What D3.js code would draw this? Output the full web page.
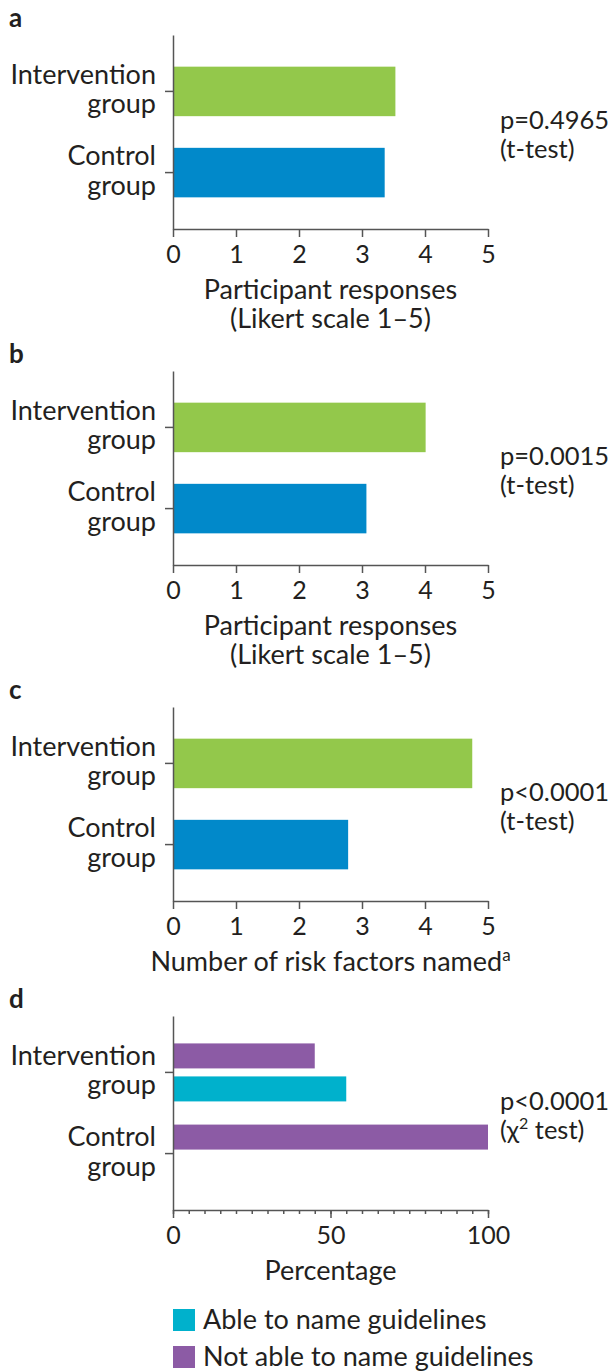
<!DOCTYPE html>
<html>
<head>
<meta charset="utf-8">
<script src="https://cdnjs.cloudflare.com/ajax/libs/d3/7.8.5/d3.min.js"></script>
<style>
  body { margin: 0; background: #fff; }
  svg text { font-family: Lato, "Open Sans", sans-serif; fill: #231f20; }
  .axis path, .axis line { stroke: #555; stroke-width: 1.5; }
  .axis text { font-size: 25px; fill: #231f20; }
</style>
</head>
<body>
<div id="chart"></div>
<script>

// values
var categories = ["Intervention group", "Control group"];
var categoryLines = [["Intervention", "group"], ["Control", "group"]];
var likertA = [3.53, 3.36];
var likertB = [4.01, 3.07];
var riskFactors = [4.75, 2.78];
var ableToName = [55, 0];
var notAbleToName = [45, 100];

var likertTicks = [0, 1, 2, 3, 4, 5];
var pctTicks = [0, 50, 100];
var panelLetters = ["a", "b", "c", "d"];
var pValues = ["p=0.4965", "p=0.0015", "p<0.0001", "p<0.0001"];
var testNames = ["(t-test)", "(t-test)", "(t-test)", "chi2"];
var legendLabels = ["Able to name guidelines", "Not able to name guidelines"];

var colors = {interv: "#93c84b", control: "#0189ca", able: "#00b1cc", notAble: "#8c5ba5"};

var width = 612, height = 1371;
var left = 173, right = 488;
var axisTop = 35, axisBottom = 229;
var offsets = [0, 336, 672, 981];

var svg = d3.select("#chart").append("svg")
    .attr("width", width)
    .attr("height", height);

var y = d3.scaleBand()
    .domain(categories)
    .range([axisTop, axisBottom])
    .paddingInner(0.39)
    .paddingOuter(0.39);

function drawPanel(i, opts) {
  var g = svg.append("g").attr("transform", "translate(0," + offsets[i] + ")");

  g.append("text")
    .attr("x", 9).attr("y", 27)
    .style("font-size", "26px").style("font-weight", "bold")
    .text(panelLetters[i]);

  var x = d3.scaleLinear().domain(opts.domain).range([left, right]);

  if (opts.values) {
    g.selectAll(".bar")
      .data(opts.values)
      .enter().append("rect")
      .attr("class", "bar")
      .attr("x", x(0))
      .attr("y", function(d, j) { return y(categories[j]); })
      .attr("width", function(d) { return x(d) - x(0); })
      .attr("height", y.bandwidth())
      .attr("fill", function(d, j) { return j == 0 ? colors.interv : colors.control; });
  } else {
    // grouped bars for panel d
    var inner = d3.scaleBand().domain(["notAble", "able"]).range([-29, 29]).paddingInner(0.2424);
    categories.forEach(function(c, j) {
      var mid = y(c) + y.bandwidth() / 2;
      [["notAble", notAbleToName[j]], ["able", ableToName[j]]].forEach(function(s) {
        g.append("rect")
          .attr("x", x(0))
          .attr("y", mid + inner(s[0]))
          .attr("width", x(s[1]) - x(0))
          .attr("height", inner.bandwidth())
          .attr("fill", colors[s[0]]);
      });
    });
  }

  // category axis
  g.append("g")
    .attr("class", "axis")
    .attr("transform", "translate(" + left + ",0)")
    .call(d3.axisLeft(y).tickSize(8).tickSizeOuter(0).tickFormat(""));

  categories.forEach(function(c, j) {
    var mid = y(c) + y.bandwidth() / 2;
    var t = g.append("text")
      .attr("text-anchor", "end")
      .style("font-size", "27px");
    t.append("tspan").attr("x", 156).attr("y", mid - 7.5).text(categoryLines[j][0]);
    t.append("tspan").attr("x", 156).attr("y", mid + 22).text(categoryLines[j][1]);
  });

  // value axis
  var xa = g.append("g")
    .attr("class", "axis")
    .attr("transform", "translate(0," + axisBottom + ")")
    .call(d3.axisBottom(x).tickValues(opts.ticks).tickFormat(d3.format("d"))
      .tickSize(8).tickSizeOuter(0));
  xa.selectAll("text").attr("dy", null).attr("y", 34);

  if (opts.minor) {
    g.append("g")
      .attr("class", "axis")
      .attr("transform", "translate(0," + axisBottom + ")")
      .call(d3.axisBottom(x).ticks(20).tickSize(4).tickSizeOuter(0).tickFormat(""))
      .select(".domain").remove();
  }

  // axis title
  var title = g.append("text")
    .attr("text-anchor", "middle")
    .style("font-size", "27px");
  opts.title.forEach(function(line, k) {
    title.append("tspan").attr("x", (left + right) / 2).attr("y", axisBottom + 70 + k * 29).text(line);
  });
  if (opts.titleSup) {
    title.append("tspan").attr("dy", -10).style("font-size", "17px").text(opts.titleSup);
  }

  // p value
  var p = g.append("text").style("font-size", "25.5px");
  p.append("tspan").attr("x", 500).attr("y", 129).text(pValues[i]);
  if (testNames[i] == "chi2") {
    p.append("tspan").attr("x", 500).attr("y", 158).text("(\u03c7");
    p.append("tspan").attr("dy", -10).style("font-size", "16px").text("2");
    p.append("tspan").attr("dy", 10).text(" test)");
  } else {
    p.append("tspan").attr("x", 500).attr("y", 158).text(testNames[i]);
  }
}

drawPanel(0, {values: likertA, domain: [0, 5], ticks: likertTicks,
  title: ["Participant responses", "(Likert scale 1\u20135)"]});
drawPanel(1, {values: likertB, domain: [0, 5], ticks: likertTicks,
  title: ["Participant responses", "(Likert scale 1\u20135)"]});
drawPanel(2, {values: riskFactors, domain: [0, 5], ticks: likertTicks,
  title: ["Number of risk factors named"], titleSup: "a"});
drawPanel(3, {values: null, domain: [0, 100], ticks: pctTicks, minor: true,
  title: ["Percentage"]});

// legend
var legend = svg.append("g").attr("transform", "translate(" + left + ",1309)");
legend.selectAll("rect")
  .data(legendLabels)
  .enter().append("rect")
  .attr("x", 0)
  .attr("y", function(d, i) { return i * 37; })
  .attr("width", 22).attr("height", 22)
  .attr("fill", function(d, i) { return i == 0 ? colors.able : colors.notAble; });
legend.selectAll("text")
  .data(legendLabels)
  .enter().append("text")
  .attr("x", 30)
  .attr("y", function(d, i) { return 20 + i * 37; })
  .style("font-size", "27px")
  .text(function(d) { return d; });

</script>
</body>
</html>
